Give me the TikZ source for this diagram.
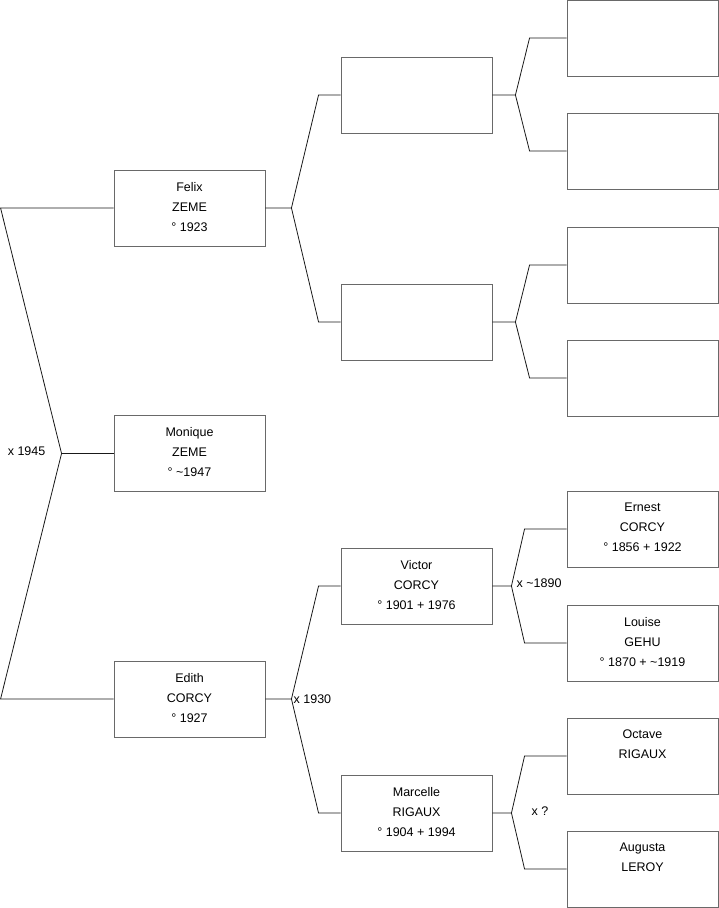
\documentclass[tikz,border=0pt]{standalone}
\usepackage{fontspec}
\setmainfont{Liberation Sans}
\definecolor{boxgray}{RGB}{105,105,105}
\definecolor{linkblack}{RGB}{25,25,25}
\usetikzlibrary{positioning,calc}

\begin{document}
\begin{tikzpicture}[x=1pt,y=-1pt,
  person/.style={draw=boxgray, line width=0.9pt, fill=white, minimum width=151pt, minimum height=76pt, inner sep=0pt},
  ptext/.style={anchor=north, align=center, inner sep=0pt, font=\fontsize{12.5}{20}\selectfont},
  link/.style={draw=linkblack, line width=0.8pt},
  wedding/.style={inner sep=0pt, font=\fontsize{12.5}{15}\selectfont}]
  \useasboundingbox (0,0) rectangle (719,908);

  %% Generation 1
  \node[person] (felix)   at (189.5,208) {};
  \node[person] (monique) at (189.5,453.5) {};
  \node[person] (edith)   at (189.5,699) {};
  \node[ptext] (felixtxt)   at ([yshift=-12.5pt]felix.north)   {Felix\\ZEME\\° 1923};
  \node[ptext] (moniquetxt) at ([yshift=-12.5pt]monique.north) {Monique\\ZEME\\° \textasciitilde1947};
  \node[ptext] (edithtxt)   at ([yshift=-12.5pt]edith.north)   {Edith\\CORCY\\° 1927};

  %% Generation 2
  \node[person] (felixf)   at (416.5,95)  {};
  \node[person] (felixm)   at (416.5,322) {};
  \node[person] (victor)   at (416.5,586) {};
  \node[person] (marcelle) at (416.5,813) {};
  \node[ptext] (victortxt)   at ([yshift=-12.5pt]victor.north)   {Victor\\CORCY\\° 1901 + 1976};
  \node[ptext] (marcelletxt) at ([yshift=-12.5pt]marcelle.north) {Marcelle\\RIGAUX\\° 1904 + 1994};

  %% Generation 3
  \node[person] (felixff)  at (642.5,38)  {};
  \node[person] (felixfm)  at (642.5,151) {};
  \node[person] (felixmf)  at (642.5,265) {};
  \node[person] (felixmm)  at (642.5,378) {};
  \node[person] (ernest)   at (642.5,529) {};
  \node[person] (louise)   at (642.5,643) {};
  \node[person] (octave)   at (642.5,756) {};
  \node[person] (augusta)  at (642.5,869) {};
  \node[ptext] (ernesttxt)  at ([yshift=-12.5pt]ernest.north)  {Ernest\\CORCY\\° 1856 + 1922};
  \node[ptext] (louisetxt)  at ([yshift=-12.5pt]louise.north)  {Louise\\GEHU\\° 1870 + \textasciitilde1919};
  \node[ptext] (octavetxt)  at ([yshift=-12.5pt]octave.north)  {Octave\\RIGAUX};
  \node[ptext] (augustatxt) at ([yshift=-12.5pt]augusta.north) {Augusta\\LEROY};

  %% Couple Felix / Edith
  \coordinate (m0) at ([xshift=-52pt]monique.west);
  \draw[link] (felix.west) -- ([xshift=-113pt]felix.west) -- (m0) -- ([xshift=-113pt]edith.west) -- (edith.west);
  \draw[link] (m0) -- (monique.west);
  \node[wedding, anchor=east] (w0) at ([xshift=-16pt,yshift=2pt]m0) {x 1945};

  %% Parents of Felix and Edith
  \coordinate (jfelix) at ([xshift=26pt]felix.east);
  \draw[link] (felix.east) -- (jfelix) -- ([xshift=-22pt]felixf.west) -- (felixf.west);
  \draw[link] (jfelix) -- ([xshift=-22pt]felixm.west) -- (felixm.west);
  \coordinate (jedith) at ([xshift=26pt]edith.east);
  \draw[link] (edith.east) -- (jedith) -- ([xshift=-22pt]victor.west) -- (victor.west);
  \draw[link] (jedith) -- ([xshift=-22pt]marcelle.west) -- (marcelle.west);
  \node[wedding, anchor=west] (w1) at ([xshift=2pt]jedith) {x 1930};

  %% Grandparents
  \coordinate (jfelixf) at ([xshift=23pt]felixf.east);
  \draw[link] (felixf.east) -- (jfelixf) -- ([xshift=-37pt]felixff.west) -- (felixff.west);
  \draw[link] (jfelixf) -- ([xshift=-37pt]felixfm.west) -- (felixfm.west);
  \coordinate (jfelixm) at ([xshift=23pt]felixm.east);
  \draw[link] (felixm.east) -- (jfelixm) -- ([xshift=-37pt]felixmf.west) -- (felixmf.west);
  \draw[link] (jfelixm) -- ([xshift=-37pt]felixmm.west) -- (felixmm.west);
  \coordinate (jvictor) at ([xshift=19pt]victor.east);
  \draw[link] (victor.east) -- (jvictor) -- ([xshift=-42pt]ernest.west) -- (ernest.west);
  \draw[link] (jvictor) -- ([xshift=-42pt]louise.west) -- (louise.west);
  \node[wedding, anchor=west] (w2) at ([xshift=5pt,yshift=3pt]jvictor) {x \textasciitilde1890};
  \coordinate (jmarcelle) at ([xshift=19pt]marcelle.east);
  \draw[link] (marcelle.east) -- (jmarcelle) -- ([xshift=-42pt]octave.west) -- (octave.west);
  \draw[link] (jmarcelle) -- ([xshift=-42pt]augusta.west) -- (augusta.west);
  \node[wedding, anchor=west] (w3) at ([xshift=20pt,yshift=2pt]jmarcelle) {x ?};
\end{tikzpicture}
\end{document}
